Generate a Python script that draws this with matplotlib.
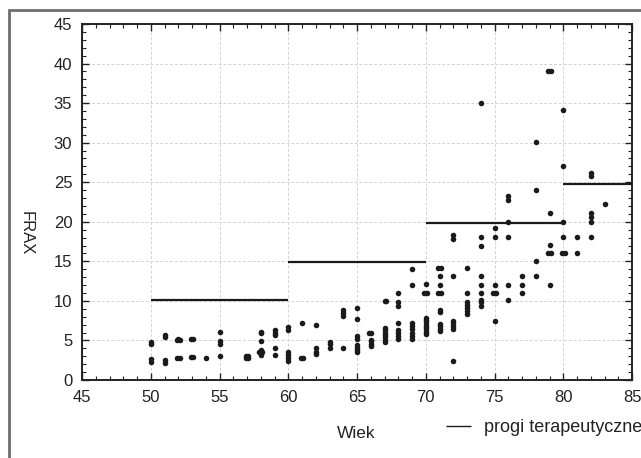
import matplotlib
matplotlib.use("Agg")
import matplotlib.pyplot as plt
from matplotlib.patches import Rectangle
from matplotlib.ticker import MultipleLocator

plt.rcParams['font.family'] = ['Liberation Sans', 'DejaVu Sans']

# --- data: patient age (Wiek) and FRAX score ---
ages = [
    50, 50, 50, 50,
    51, 51, 51, 51,
    51.9, 52.1, 52, 51.9, 52.1,
    52.9, 53.1, 52.9, 53.1,
    54,
    55, 55, 55, 55,
    56.9, 57.1, 56.9, 57.1,
    58, 58, 58, 58, 58, 58, 57.9, 58.1,
    59, 59, 59, 59, 59,
    60, 60, 60, 60, 60, 60,
    61, 60.9, 61.1,
    62, 62, 62, 62,
    63, 63, 63,
    64, 64, 64, 64,
    65, 65, 65, 65, 65, 65, 65, 65,
    66, 65.9, 66, 66, 66, 66,
    67, 67.1, 67, 67, 67, 67, 67, 67, 67,
    68, 68, 68, 68, 68, 68, 68, 68,
    69, 69, 69, 69, 69, 69, 69, 69,
    70, 69.9, 70.1, 70, 70, 70, 70, 70, 70, 70, 70,
    70.9, 71.1, 71, 71, 70.9, 71.1, 71, 71, 71, 71, 71, 71,
    72, 72, 72, 72, 72, 72, 72, 72,
    73, 73, 73, 73, 73, 73, 73,
    74, 74, 74, 74, 74, 74, 74, 74, 74,
    75, 75, 75, 74.9, 75.1, 75,
    76, 76, 76, 76, 76, 76,
    77, 77, 77,
    78, 78, 78, 78,
    78.9, 79.1, 79, 79, 78.9, 79.1, 79,
    80, 80, 80, 80, 79.9, 80.1,
    81, 81,
    82, 82, 82, 82, 82, 82,
    83,
]
frax = [
    4.5, 4.8, 2.3, 2.6,
    5.4, 5.7, 2.2, 2.5,
    5.0, 5.0, 5.2, 2.8, 2.8,
    5.2, 5.2, 2.9, 2.9,
    2.8,
    6.1, 4.6, 4.9, 3.0,
    2.8, 2.8, 3.0, 3.0,
    5.9, 6.1, 4.9, 3.2, 3.5, 3.8, 3.5, 3.5,
    5.7, 6.0, 6.3, 4.0, 3.1,
    6.3, 6.7, 2.4, 2.8, 3.2, 3.6,
    7.2, 2.8, 2.8,
    6.9, 3.3, 3.6, 4.0,
    4.1, 4.5, 4.8,
    8.1, 8.5, 8.8, 4.1,
    9.1, 7.7, 5.2, 5.5, 3.5, 3.8, 4.1, 4.4,
    6.0, 6.0, 4.3, 4.6, 4.9, 5.1,
    10.0, 10.0, 4.8, 5.1, 5.4, 5.7, 6.0, 6.3, 6.6,
    11.0, 9.3, 9.8, 7.2, 5.2, 5.6, 6.0, 6.3,
    14.0, 12.0, 5.2, 5.6, 6.0, 6.4, 6.8, 7.2,
    12.1, 11.0, 11.0, 5.8, 6.1, 6.4, 6.7, 7.0, 7.3, 7.6, 7.9,
    14.1, 14.1, 13.1, 12.0, 11.0, 11.0, 8.6, 8.9, 6.2, 6.5, 6.8, 7.1,
    17.8, 18.3, 13.1, 6.4, 6.8, 7.2, 7.5, 2.4,
    14.1, 11.0, 8.3, 8.7, 9.1, 9.5, 9.8,
    35.0, 18.1, 17.0, 13.1, 12.0, 11.0, 9.4, 9.8, 10.1,
    19.2, 18.1, 12.0, 11.0, 11.0, 7.4,
    22.8, 23.3, 20.0, 18.1, 12.0, 10.1,
    13.1, 12.0, 11.0,
    30.1, 24.0, 15.1, 13.1,
    39.1, 39.1, 21.1, 17.1, 16.1, 16.1, 12.0,
    34.1, 27.1, 20.0, 18.1, 16.1, 16.1,
    18.1, 16.1,
    25.8, 26.2, 20.0, 20.6, 21.1, 18.1,
    22.2,
]

# therapeutic thresholds per age band
band_start = [50, 60, 70, 80]
band_end = [60, 70, 80, 85]
thresholds = [10.1, 14.9, 19.9, 24.8]

fig = plt.figure(figsize=(6.41, 4.58), dpi=100)
ax = fig.add_axes([82 / 641, 1 - 380 / 458, 550 / 641, 356 / 458])

ax.plot(ages, frax, 'o', color='#1a1a1a', markersize=4.0, markeredgewidth=0,
        zorder=3)
ax.hlines(thresholds, band_start, band_end, colors='#1a1a1a', linewidth=1.6,
          zorder=4, label='progi terapeutyczne')

ax.set_xlim(45, 85)
ax.set_ylim(0, 45)
ax.xaxis.set_major_locator(MultipleLocator(5))
ax.xaxis.set_minor_locator(MultipleLocator(1))
ax.yaxis.set_major_locator(MultipleLocator(5))
ax.yaxis.set_minor_locator(MultipleLocator(1))
ax.tick_params(which='both', direction='in', top=True, right=True,
               colors='#222222', labelsize=12)
ax.tick_params(which='major', length=5, width=1, pad=7)
ax.tick_params(which='minor', length=3, width=0.8)
for s in ax.spines.values():
    s.set_linewidth(1.4)
    s.set_color('#222222')
ax.grid(True, which='major', color='#d2d2d2', linestyle=(0, (3, 2)),
        linewidth=0.7, zorder=0)
ax.set_axisbelow(True)

fig.text(356 / 641, 1 - 434 / 458, 'Wiek', ha='center', va='center',
         fontsize=12.5, color='#222222')
fig.text(26 / 641, 1 - 233 / 458, 'FRAX', ha='center', va='center',
         rotation=-90, fontsize=12, color='#222222')

leg = ax.legend(loc='center left', bbox_to_anchor=(446 / 641, 1 - 428 / 458),
                bbox_transform=fig.transFigure, frameon=False, fontsize=13,
                borderpad=0, borderaxespad=0, handlelength=1.4,
                handletextpad=0.7, labelcolor='#222222')
# legend sample line is thinner than the plotted thresholds
for h in leg.legend_handles:
    h.set_linewidth(1.0)

# outer grey frame
fig.add_artist(Rectangle((9 / 641, -0.1), 1.2, 1 - 10 / 458 + 0.1,
                         transform=fig.transFigure, fill=False,
                         edgecolor='#6e6e6e', linewidth=2))

fig.savefig('out.png', dpi=100)
